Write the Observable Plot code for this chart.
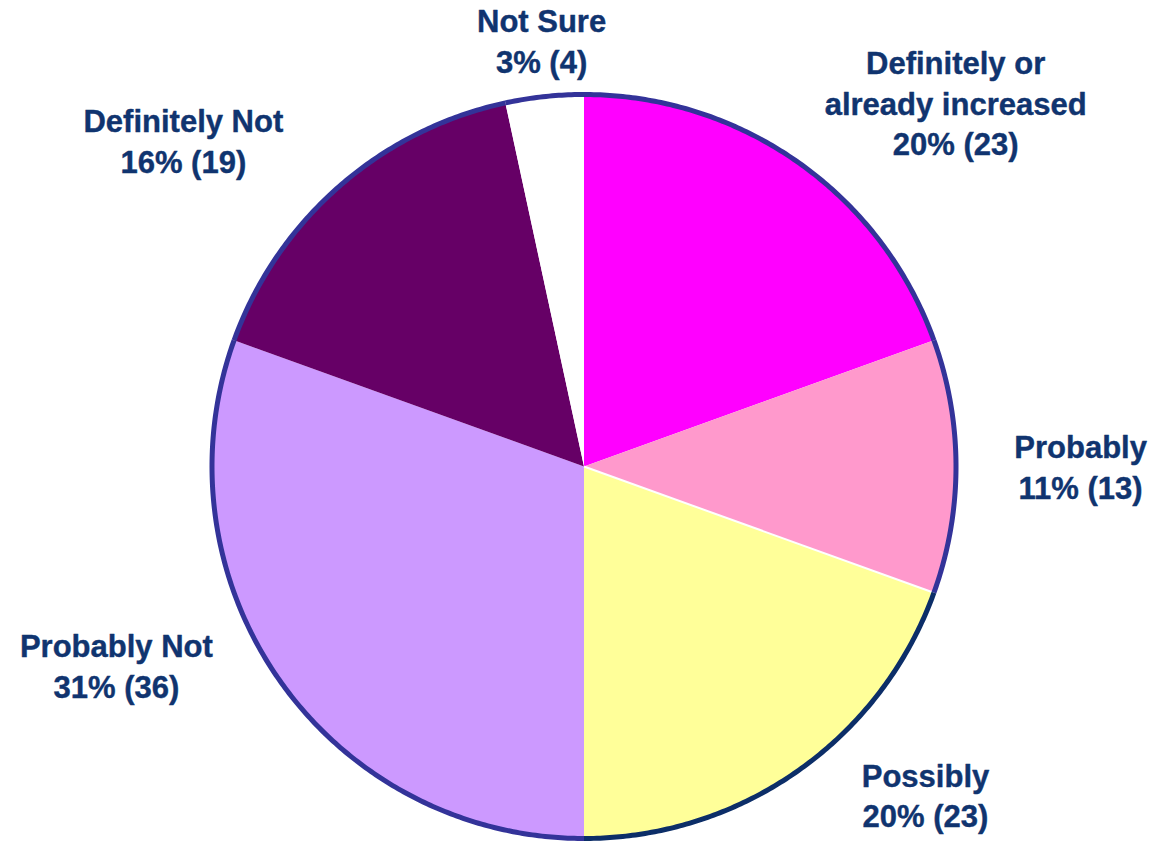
<!DOCTYPE html>
<html><head><meta charset="utf-8">
<script src="https://cdn.jsdelivr.net/npm/d3@7"></script>
<script src="https://cdn.jsdelivr.net/npm/@observablehq/plot@0.6"></script>
<style>body{margin:0;background:#fff}#chart svg{display:block}</style>
</head><body><div id="chart"></div>
<script>
// Data
const categories = ["Definitely or already increased","Probably","Possibly","Probably Not","Definitely Not","Not Sure"];
const labelNames = ["Definitely or\nalready increased","Probably","Possibly","Probably Not","Definitely Not","Not Sure"];
const counts = [23, 13, 23, 36, 19, 4];
const percents = [20, 11, 20, 31, 16, 3];
// Style / layout
const colors = ["#FF00FF","#FF99CC","#FFFF99","#CC99FF","#660066","#FFFFFF"];
const labelPos = [[0.999,1.131],[1.335,0.099],[0.918,-0.785],[-1.257,-0.436],[-1.077,0.975],[-0.114,1.244]];
const cx = 583.5, cy = 466, R = 372;

const pie = d3.pie().sort(null).value(d => d)(counts);
const slicePts = [], rimPts = [];
pie.forEach((p, i) => {
  const cat = categories[i];
  slicePts.push({cat, x: 0, y: 0});
  const n = Math.max(2, Math.ceil((p.endAngle - p.startAngle) / (2 * Math.PI) * 720));
  for (let k = 0; k <= n; k++) {
    const a = p.startAngle + (p.endAngle - p.startAngle) * k / n;
    const pt = {cat, x: Math.sin(a), y: Math.cos(a)};
    slicePts.push(pt);
    rimPts.push(pt);
  }
  slicePts.push({cat, x: 0, y: 0});
});
const dividers = [pie[1]].map(p => ({x1: 0, y1: 0, x2: Math.sin(p.endAngle), y2: Math.cos(p.endAngle)}));
const labels = categories.map((c, i) => ({
  x: labelPos[i][0], y: labelPos[i][1],
  text: `${labelNames[i]}\n${percents[i]}% (${counts[i]})`
}));

const chart = Plot.plot({
  width: 1152, height: 842,
  x: {domain: [-1, 1], range: [cx - R, cx + R], axis: null},
  y: {domain: [-1, 1], range: [cy + R, cy - R], axis: null},
  color: {domain: categories, range: colors},
  style: {background: "#fff", overflow: "visible"},
  marks: [
    Plot.line(slicePts, {x: "x", y: "y", z: "cat", fill: "cat", stroke: "none", curve: "linear"}),
    Plot.link(dividers, {x1: "x1", y1: "y1", x2: "x2", y2: "y2", stroke: "#fff", strokeWidth: 2}),
    Plot.line(rimPts.filter(d => d.cat !== "Possibly"), {x: "x", y: "y", z: "cat", stroke: "#333399", strokeWidth: 5, strokeLinecap: "butt"}),
    Plot.line(rimPts.filter(d => d.cat === "Possibly"), {x: "x", y: "y", z: "cat", stroke: "#0C2E68", strokeWidth: 5, strokeLinecap: "butt"}),
    Plot.text(labels, {x: "x", y: "y", text: "text", lineAnchor: "top", textAnchor: "middle",
      fontSize: 31, fontWeight: "bold", fill: "#10346F", stroke: "#10346F", strokeWidth: 0.4, lineHeight: 1.3,
      fontFamily: "'Liberation Sans', Arial, sans-serif"})
  ]
});
document.getElementById("chart").appendChild(chart);
</script>
</body></html>
